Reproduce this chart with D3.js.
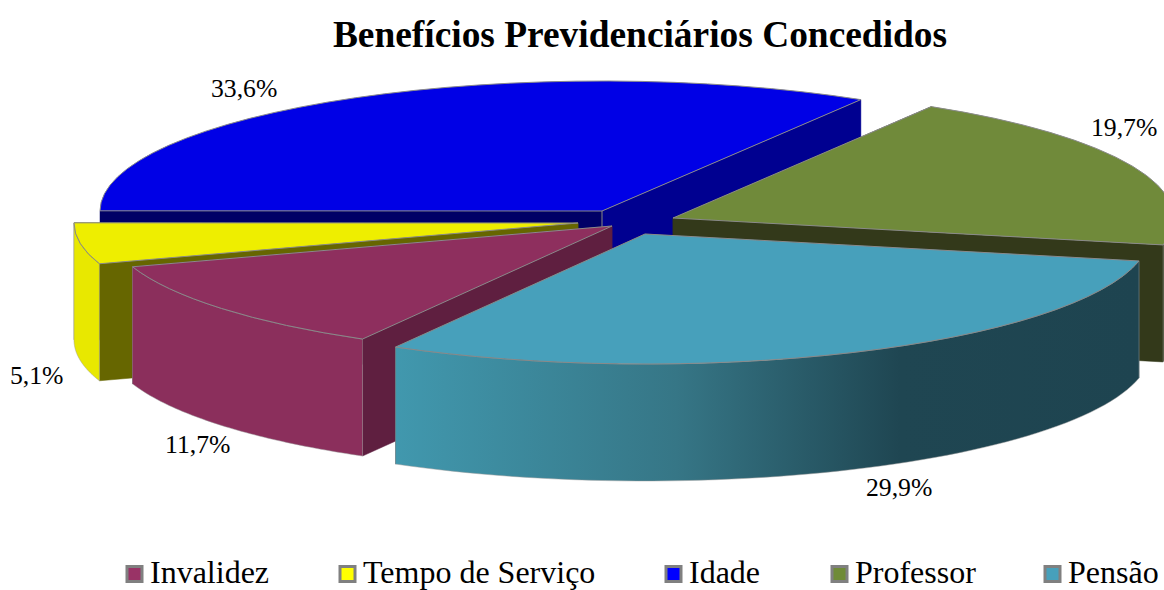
<!DOCTYPE html>
<html lang="pt">
<head>
  <meta charset="UTF-8">
  <title>Benefícios Previdenciários Concedidos</title>
  <script src="https://d3js.org/d3.v7.min.js"></script>
  <style>
    html, body { margin: 0; padding: 0; background: #fff; overflow: hidden; }
    text { font-family: "Liberation Serif", serif; fill: #000; }
  </style>
</head>
<body>
  <div class="canvas"></div>
  <script>
    const categories = ['Invalidez', 'Tempo de Serviço', 'Idade', 'Professor', 'Pensão'];
    const values = [11.7, 5.1, 33.6, 19.7, 29.9];
    const valueLabels = ['11,7%', '5,1%', '33,6%', '19,7%', '29,9%'];

    const topColors = ['#8e2f5e', '#eeee00', '#0000e6', '#708a3a', '#47a0bb'];
    const legendColors = ['#993366', '#ffff00', '#0000ff', '#6f8b37', '#47a0bb'];
    const wallColors = ['#8b2f5c', '#e8e800', '#000090', '#33391a', 'url(#pensaoWall)'];
    const backFaceColors = ['#5f1f40', '#666600', '#000066', '#33391a', '#1e4450'];
    const nearFaceColors = ['#5f1f40', '#666600', '#000090', '#33391a', '#1e4450'];

    const width = 1164;
    const height = 590;
    const ry = 130;
    const depth = 117;
    // where each exploded slice has its tip, near slices are a bit wider
    const tipX = [612, 578, 602, 673, 645];
    const tipY = [226, 223, 211, 218, 234];
    const radiusX = [505, 504, 502, 501, 505];
    const labelX = [165, 10, 211, 1091, 866];
    const labelY = [453, 384, 97, 136, 496];
    const legendX = [127, 340, 666, 832, 1045];
    const rad = Math.PI / 180;

    const color = d3.scaleOrdinal().domain(categories).range(topColors);
    const legendColor = d3.scaleOrdinal().domain(categories).range(legendColors);

    const svg = d3.select('.canvas')
                  .append('svg')
                  .attr('width', width)
                  .attr('height', height);

    const grad = svg.append('defs').append('linearGradient')
                    .attr('id', 'pensaoWall')
                    .attr('gradientUnits', 'userSpaceOnUse')
                    .attr('x1', 395).attr('x2', 1138)
                    .attr('y1', 0).attr('y2', 0);
    [[0, '#4198ae'], [0.38, '#367686'], [0.68, '#1f4652'], [1, '#1e4450']].forEach(s => {
      grad.append('stop').attr('offset', s[0]).attr('stop-color', s[1]);
    });

    // pie starts at the invalidez/pensao cut and goes clockwise
    const pie = d3.pie().sort(null)
                  .startAngle(209.6 * rad)
                  .endAngle((209.6 + 360) * rad);
    const slices = pie(values);
    const line = d3.line();

    const point = (i, a, drop) => [
      tipX[i] + radiusX[i] * Math.sin(a),
      tipY[i] - ry * Math.cos(a) + drop
    ];

    // idade and professor sit behind, pensao is painted last
    const order = [2, 3, 1, 0, 4];

    order.forEach(i => {
      const s = slices[i];
      const g = svg.append('g').attr('class', 'slice');
      const arc = d3.arc().innerRadius(0).outerRadius(radiusX[i]);

      // the two cut faces, the one further back first
      const faces = [[s.startAngle, backFaceColors[i]], [s.endAngle, nearFaceColors[i]]]
        .sort((a, b) => Math.cos(b[0]) - Math.cos(a[0]));
      if (i === 2) {
        faces[0][1] = '#000090';
        faces[1][1] = '#000066';
      }
      faces.forEach(f => {
        const edge = point(i, f[0], 0);
        g.append('path')
         .attr('d', line([[tipX[i], tipY[i]], edge, [edge[0], edge[1] + depth], [tipX[i], tipY[i] + depth]]) + 'Z')
         .attr('fill', f[1])
         .attr('stroke', f[1])
         .attr('stroke-width', 0.5);
      });
      g.append('path')
       .attr('d', line([[tipX[i], tipY[i]], [tipX[i], tipY[i] + depth]]))
       .attr('stroke', '#8a8a8a')
       .attr('stroke-width', i === 2 ? 1 : 0);

      // outer wall, only the part of the rim that faces front
      // (slices past a full turn are brought back to 0-360 first)
      const turn = s.startAngle >= 2 * Math.PI ? 2 * Math.PI : 0;
      const a0 = Math.max(s.startAngle - turn, 90 * rad);
      const a1 = Math.min(s.endAngle - turn, 270 * rad);
      if (a1 > a0) {
        const steps = d3.range(0, 61).map(k => a0 + (a1 - a0) * k / 60);
        const upper = steps.map(a => point(i, a, 0));
        const lower = steps.slice().reverse().map(a => point(i, a, depth));
        g.append('path')
         .attr('d', line(upper.concat(lower)) + 'Z')
         .attr('fill', wallColors[i])
         .attr('stroke', '#9a9a9a')
         .attr('stroke-opacity', 0.6)
         .attr('stroke-width', 0.8);
      }

      // top face: d3.arc flattened to an ellipse
      g.append('path')
       .attr('d', arc(s))
       .attr('transform', `translate(${tipX[i]}, ${tipY[i]}) scale(1, ${ry / radiusX[i]})`)
       .attr('fill', color(categories[i]))
       .attr('stroke', '#8a8a8a')
       .attr('stroke-width', 1)
       .attr('vector-effect', 'non-scaling-stroke');
    });

    svg.append('text')
       .attr('x', 640)
       .attr('y', 47)
       .attr('text-anchor', 'middle')
       .attr('font-size', 37.4)
       .attr('font-weight', 'bold')
       .text('Benefícios Previdenciários Concedidos');

    svg.selectAll('.value')
       .data(valueLabels)
       .enter()
       .append('text')
       .attr('class', 'value')
       .attr('x', (d, i) => labelX[i])
       .attr('y', (d, i) => labelY[i])
       .attr('font-size', 25.7)
       .text(d => d);

    const legend = svg.selectAll('.legend')
                      .data(categories)
                      .enter()
                      .append('g')
                      .attr('class', 'legend')
                      .attr('transform', (d, i) => `translate(${legendX[i]}, 0)`);

    legend.append('rect')
          .attr('x', 0)
          .attr('y', 566.5)
          .attr('width', 15)
          .attr('height', 15)
          .attr('fill', d => legendColor(d))
          .attr('stroke', '#808080')
          .attr('stroke-width', 3);

    legend.append('text')
          .attr('x', 23)
          .attr('y', 583)
          .attr('font-size', 32)
          .text(d => d);
  </script>
</body>
</html>
